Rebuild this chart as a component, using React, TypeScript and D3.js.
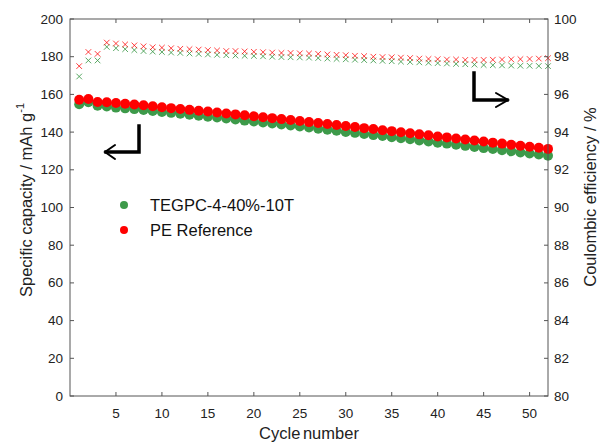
import React from "react";
import * as d3 from "d3";

// Cycle index shared by all series
const cycles: number[] = Array.from({ length: 52 }, (_, i) => i + 1);

// Discharge specific capacity (mAh/g)
const capTEGPC: number[] = [
  154.8, 155.8, 154.0, 153.6, 153.0, 152.6, 152.2, 151.7, 151.2, 150.7,
  150.2, 149.7, 149.2, 148.7, 148.2, 147.7, 147.2, 146.7, 146.1, 145.6,
  145.1, 144.6, 144.0, 143.5, 143.0, 142.4, 141.8, 141.3, 140.7, 140.1,
  139.6, 139.0, 138.4, 137.9, 137.3, 136.7, 136.2, 135.6, 135.0, 134.4,
  133.9, 133.3, 132.7, 132.1, 131.5, 131.0, 130.4, 129.8, 129.2, 128.6,
  128.1, 127.5,
];
const capPE: number[] = [
  157.2, 157.6, 156.0, 155.8, 155.4, 155.0, 154.6, 154.2, 153.7, 153.2,
  152.7, 152.3, 151.8, 151.3, 150.9, 150.4, 149.9, 149.4, 148.9, 148.4,
  147.9, 147.4, 146.9, 146.4, 145.9, 145.3, 144.8, 144.3, 143.8, 143.2,
  142.7, 142.1, 141.6, 141.0, 140.5, 139.9, 139.4, 138.8, 138.3, 137.7,
  137.2, 136.6, 136.1, 135.5, 135.0, 134.4, 133.9, 133.3, 132.8, 132.2,
  131.7, 131.1,
];

// Coulombic efficiency (%)
const ceTEGPC: number[] = [
  96.95, 97.8, 97.8, 98.52, 98.45, 98.4, 98.35, 98.3, 98.27, 98.25,
  98.22, 98.2, 98.17, 98.15, 98.12, 98.1, 98.08, 98.06, 98.05, 98.04,
  98.02, 98.0, 97.98, 97.97, 97.96, 97.95, 97.93, 97.9, 97.88, 97.86,
  97.84, 97.82, 97.8, 97.78, 97.76, 97.74, 97.72, 97.7, 97.68, 97.66,
  97.64, 97.62, 97.6, 97.58, 97.56, 97.55, 97.54, 97.53, 97.52, 97.52,
  97.51, 97.5,
];
const cePE: number[] = [
  97.5, 98.25, 98.15, 98.75, 98.7, 98.65, 98.6, 98.55, 98.5, 98.48,
  98.45, 98.42, 98.4, 98.38, 98.35, 98.33, 98.3, 98.3, 98.28, 98.26,
  98.24, 98.22, 98.2, 98.2, 98.18, 98.17, 98.15, 98.12, 98.1, 98.08,
  98.05, 98.03, 98.0, 97.98, 97.97, 97.95, 97.93, 97.9, 97.88, 97.87,
  97.85, 97.85, 97.83, 97.83, 97.83, 97.84, 97.85, 97.86, 97.87, 97.88,
  97.9, 97.92,
];

const xTicks: number[] = [5, 10, 15, 20, 25, 30, 35, 40, 45, 50];
const capTicks: number[] = [0, 20, 40, 60, 80, 100, 120, 140, 160, 180, 200];
const ceTicks: number[] = [80, 82, 84, 86, 88, 90, 92, 94, 96, 98, 100];

const seriesNames = ["TEGPC-4-40%-10T", "PE Reference"];
const GREEN = "#3d9a4a";
const RED = "#ff0000";

const W = 601;
const H = 443;
const L = 70;
const R = 548;
const T = 19;
const B = 396;
const FONT = "'Liberation Sans', Arial, sans-serif";
const AXIS = "#555";

export default function App() {
  const x = d3.scaleLinear().domain([0, 52]).range([L, R]);
  const yCap = d3.scaleLinear().domain([0, 200]).range([B, T]);
  const yCE = d3.scaleLinear().domain([80, 100]).range([B, T]);

  const cross = (cx: number, cy: number, s = 2.8) =>
    `M${cx - s},${cy - s}L${cx + s},${cy + s}M${cx - s},${cy + s}L${cx + s},${cy - s}`;

  const tick = 4;

  return (
    <svg
      width={W}
      height={H}
      viewBox={`0 0 ${W} ${H}`}
      style={{ position: "absolute", left: 0, top: 0, display: "block", background: "#fff" }}
      fontFamily={FONT}
    >
      {/* coulombic efficiency crosses */}
      <g strokeWidth={1} fill="none">
        {cycles.map((c, i) => (
          <path key={`cg${c}`} d={cross(x(c), yCE(ceTEGPC[i]))} stroke={GREEN} opacity={0.85} />
        ))}
        {cycles.map((c, i) => (
          <path key={`cr${c}`} d={cross(x(c), yCE(cePE[i]))} stroke={RED} opacity={0.75} />
        ))}
      </g>

      {/* capacity circles */}
      <g>
        {cycles.map((c, i) => (
          <circle key={`g${c}`} cx={x(c)} cy={yCap(capTEGPC[i])} r={5} fill={GREEN} />
        ))}
        {cycles.map((c, i) => (
          <circle key={`r${c}`} cx={x(c)} cy={yCap(capPE[i])} r={5} fill={RED} />
        ))}
      </g>

      {/* frame */}
      <rect x={L} y={T} width={R - L} height={B - T} fill="none" stroke={AXIS} strokeWidth={1} />

      {/* x ticks (bottom and top), y ticks inward */}
      <g stroke={AXIS} strokeWidth={1}>
        {xTicks.map((t) => (
          <g key={`xt${t}`}>
            <line x1={x(t)} x2={x(t)} y1={B} y2={B - tick} />
            <line x1={x(t)} x2={x(t)} y1={T} y2={T + tick} />
          </g>
        ))}
        {capTicks.map((t) => (
          <line key={`lt${t}`} x1={L} x2={L + tick} y1={yCap(t)} y2={yCap(t)} />
        ))}
        {ceTicks.map((t) => (
          <line key={`rt${t}`} x1={R} x2={R - tick} y1={yCE(t)} y2={yCE(t)} />
        ))}
      </g>

      {/* tick labels */}
      <g fontSize={13.5} fill="#222">
        {xTicks.map((t) => (
          <text key={`xl${t}`} x={x(t)} y={B + 17} textAnchor="middle" dominantBaseline="central">
            {t}
          </text>
        ))}
        {capTicks.map((t) => (
          <text key={`ll${t}`} x={L - 7} y={yCap(t)} textAnchor="end" dominantBaseline="central">
            {t}
          </text>
        ))}
        {ceTicks.map((t) => (
          <text key={`rl${t}`} x={R + 6} y={yCE(t)} textAnchor="start" dominantBaseline="central">
            {t}
          </text>
        ))}
      </g>

      {/* axis titles */}
      <g fontSize={16.5} fill="#222">
        <text x={(L + R) / 2} y={433} textAnchor="middle" dominantBaseline="central" wordSpacing={-2}>
          Cycle number
        </text>
        <text
          transform={`translate(26,${200}) rotate(-90)`}
          textAnchor="middle"
          dominantBaseline="central"
        >
          Specific capacity / mAh g<tspan dy={-6} fontSize={11}>-1</tspan>
        </text>
        <text
          transform={`translate(590,${197}) rotate(-90)`}
          textAnchor="middle"
          dominantBaseline="central"
        >
          Coulombic efficiency / %
        </text>
      </g>

      {/* axis indicator arrows */}
      <g stroke="#000" fill="none" strokeLinecap="square">
        <path d="M139,126L139,152L106,152" strokeWidth={3.5} />
        <path d="M115,145L105,152L115,159" strokeWidth={2} strokeLinecap="round" />
        <path d="M474,73L474,100L507,100" strokeWidth={3.5} />
        <path d="M496,93L508,100L496,107" strokeWidth={2} strokeLinecap="round" />
      </g>

      {/* legend */}
      <g fontSize={16.5} fill="#111">
        {seriesNames.map((name, i) => (
          <g key={name} transform={`translate(124,${205 + i * 25})`}>
            <circle cx={0} cy={0} r={4} fill={i === 0 ? GREEN : RED} />
            <text x={26} y={0} dominantBaseline="central">
              {name}
            </text>
          </g>
        ))}
      </g>
    </svg>
  );
}
